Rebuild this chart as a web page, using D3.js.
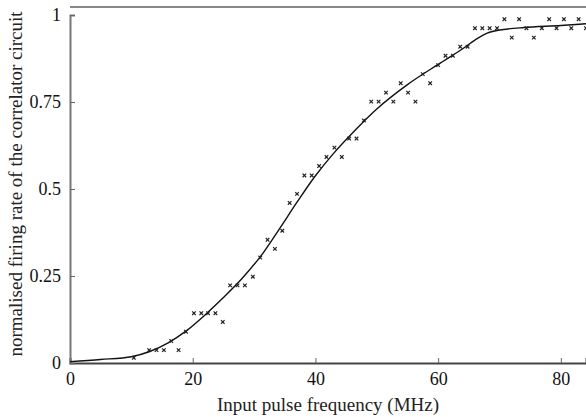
<!DOCTYPE html>
<meta charset="utf-8">
<script src="https://d3js.org/d3.v7.min.js"></script>
<style>body{margin:0;background:#fff}</style>
<div id="chart"></div>
<script>
    // measured firing rate (x markers)
    const freq = [10.4,12.9,14.1,15.3,16.5,17.7,18.9,20.2,21.4,22.5,23.7,24.9,26.1,27.3,28.5,29.8,31.0,32.2,33.4,34.6,
        35.8,37.0,38.2,39.4,40.6,41.8,43.1,44.3,45.5,46.7,47.9,49.1,50.3,51.5,52.7,53.9,55.1,56.3,57.5,58.7,
        60.0,61.2,62.4,63.6,64.8,66.0,67.2,68.4,69.6,70.8,72.0,73.2,74.4,75.6,76.9,78.1,79.3,80.5,81.7,82.9,84.1];
    const rate = [0.015,0.037,0.037,0.037,0.063,0.037,0.09,0.143,0.143,0.143,0.143,0.118,0.223,0.223,0.223,0.248,0.303,0.354,0.328,0.38,
        0.46,0.486,0.539,0.539,0.566,0.592,0.619,0.592,0.645,0.645,0.697,0.751,0.751,0.777,0.751,0.804,0.777,0.751,0.83,0.804,
        0.856,0.883,0.883,0.909,0.909,0.962,0.962,0.962,0.962,0.988,0.935,0.988,0.962,0.935,0.962,0.988,0.962,0.988,0.962,0.988,0.962];
    // fitted curve
    const fitX = [0,5,10,13,16,19,22,25,28,31,34,37,40,43,46,50,55,60,64,66,68,70,74,80,86];
    const fitY = [0.004,0.01,0.018,0.033,0.058,0.093,0.138,0.188,0.242,0.305,0.382,0.462,0.538,0.603,0.66,0.73,0.8,0.858,0.903,0.928,0.948,0.957,0.964,0.97,0.977];
    const xTicks = [0,20,40,60,80];
    const yTicks = [0,0.25,0.5,0.75,1];

    const W = 586, H = 417;
    const svg = d3.select("#chart").append("svg")
        .attr("width", W).attr("height", H)
        .style("font-family", "'Liberation Serif', serif");

    const x = d3.scaleLinear().domain([0, 84.1]).range([70, 586]);
    const y = d3.scaleLinear().domain([0, 1]).range([363, 15]);

    svg.append("clipPath").attr("id", "clip")
        .append("rect").attr("x", 70).attr("y", 7).attr("width", 516).attr("height", 357);

    // frame
    svg.append("line").attr("x1", 70).attr("x2", 586).attr("y1", 7).attr("y2", 7)
        .attr("stroke", "#888").attr("stroke-width", 2);

    const xAxis = svg.append("g")
        .attr("transform", "translate(0,363)")
        .call(d3.axisBottom(x).tickValues(xTicks).tickSize(-5).tickPadding(9).tickFormat(d3.format("d")));
    xAxis.select(".domain").attr("stroke", "#444").attr("stroke-width", 2);

    const yAxis = svg.append("g")
        .attr("transform", "translate(70,0)")
        .call(d3.axisLeft(y).tickValues(yTicks).tickSize(-5).tickPadding(9).tickFormat(d => d));
    yAxis.select(".domain").attr("stroke", "#777").attr("stroke-width", 2);

    svg.selectAll(".tick line").attr("stroke", "#666");
    svg.selectAll(".tick text").style("font-family", "'Liberation Serif', serif")
        .style("font-size", "18px").attr("fill", "#111");

    svg.append("text")
        .attr("x", 328).attr("y", 411)
        .attr("text-anchor", "middle")
        .style("font-size", "19px").attr("fill", "#222")
        .text("Input pulse frequency (MHz)");

    svg.append("text")
        .attr("transform", "translate(22,184) rotate(-90)")
        .attr("text-anchor", "middle")
        .style("font-size", "19px").attr("fill", "#222")
        .text("normalised firing rate of the correlator circuit");

    const plot = svg.append("g").attr("clip-path", "url(#clip)");

    const fit = fitX.map((v, i) => [v, fitY[i]]);
    plot.append("path")
        .datum(fit)
        .attr("fill", "none").attr("stroke", "#111").attr("stroke-width", 1.4)
        .attr("d", d3.line().x(d => x(d[0])).y(d => y(d[1])).curve(d3.curveCatmullRom));

    const pts = freq.map((v, i) => [v, rate[i]]);
    plot.append("g")
        .selectAll("path")
        .data(pts)
        .join("path")
            .attr("transform", d => `translate(${x(d[0])},${y(d[1])})`)
            .attr("d", d3.symbol(d3.symbolTimes, 10))
            .attr("fill", "none")
            .attr("stroke", "#222")
            .attr("stroke-width", 1.2);
</script>
